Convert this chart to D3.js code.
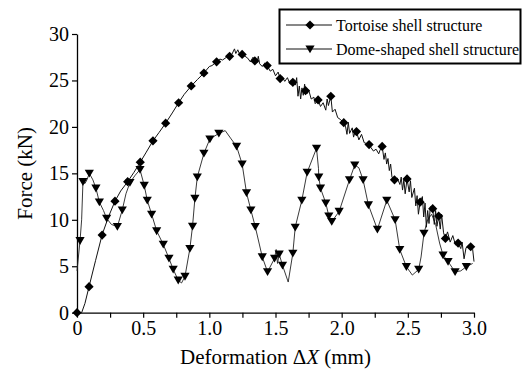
<!DOCTYPE html>
<html>
<head>
<meta charset="utf-8">
<script src="https://cdn.jsdelivr.net/npm/d3@7/dist/d3.min.js"></script>
<style>
  html, body { margin: 0; padding: 0; background: #fff; }
  svg { display: block; }
  svg text { font-family: 'Liberation Serif', 'Times New Roman', serif; fill: #000; }
</style>
</head>
<body>
<svg id="chart" width="526" height="371"></svg>
<script>
// Tortoise shell structure: force curve (x in mm, y in kN)
const tortoiseLine = [
  [0,0],[0.035,0],[0.06,1],[0.091,2.8],[0.14,5.6],[0.19,8.4],[0.24,10.4],[0.287,12.0],[0.33,13.1],
  [0.383,14.1],[0.43,15.1],[0.478,16.2],[0.52,17.2],[0.574,18.5],[0.62,19.4],[0.67,20.4],[0.72,21.5],
  [0.768,22.6],[0.81,23.5],[0.863,24.4],[0.91,25.1],[0.959,25.8],[1.0,26.5],[1.02,26.6],[1.055,27.0],
  [1.08,27.3],[1.10,27.2],[1.13,27.5],[1.153,27.6],[1.17,27.8],[1.19,28.4],[1.20,27.9],[1.215,28.3],
  [1.23,27.8],[1.248,27.8],[1.27,27.6],[1.29,27.4],[1.31,27.0],[1.33,27.5],[1.344,27.1],[1.36,26.9],
  [1.37,27.6],[1.38,26.8],[1.40,26.5],[1.42,26.9],[1.437,26.6],[1.46,26.0],[1.48,26.2],[1.50,25.5],
  [1.52,25.9],[1.535,25.2],[1.55,25.4],[1.57,24.9],[1.59,25.3],[1.61,24.6],[1.631,24.8],[1.65,24.5],
  [1.66,25.3],[1.67,23.3],[1.68,24.4],[1.69,23.0],[1.70,24.2],[1.71,23.4],[1.72,24.6],[1.727,23.9],
  [1.74,23.6],[1.75,24.0],[1.77,23.0],[1.79,23.2],[1.80,22.5],[1.822,22.9],[1.84,22.2],[1.86,22.6],
  [1.88,21.8],[1.89,23.0],[1.90,22.3],[1.918,23.3],[1.93,21.6],[1.95,21.9],[1.97,21.0],[1.99,20.8],
  [2.016,20.45],[2.03,20.0],[2.04,19.2],[2.05,20.5],[2.06,19.3],[2.08,19.9],[2.09,18.9],[2.10,19.4],
  [2.112,19.5],[2.13,18.6],[2.15,19.2],[2.17,18.3],[2.19,18.2],[2.207,18.1],[2.22,17.8],[2.24,17.4],
  [2.26,17.6],[2.28,17.1],[2.29,17.5],[2.306,17.9],[2.32,16.5],[2.33,17.2],[2.34,16.0],[2.35,16.6],
  [2.36,15.3],[2.37,16.0],[2.38,14.6],[2.399,14.3],[2.42,14.5],[2.44,13.8],[2.45,14.6],[2.46,13.2],
  [2.47,14.3],[2.48,12.8],[2.494,14.4],[2.51,13.0],[2.52,14.2],[2.53,12.4],[2.55,13.4],[2.56,11.5],
  [2.57,12.6],[2.58,10.6],[2.593,11.9],[2.61,12.5],[2.62,10.3],[2.63,11.8],[2.64,9.2],[2.65,11.0],
  [2.66,9.6],[2.67,11.4],[2.688,11.2],[2.70,9.5],[2.71,11.0],[2.72,9.3],[2.733,10.4],[2.745,9.0],
  [2.755,10.6],[2.77,8.6],[2.784,8.0],[2.80,8.7],[2.82,7.6],[2.84,8.3],[2.86,7.3],[2.88,7.5],
  [2.90,6.9],[2.91,7.6],[2.925,5.8],[2.94,7.0],[2.96,7.1],[2.975,7.1],[2.99,6.8],[3.0,5.5]
];
const tortoiseMarkers = [
  [0,0],[0.091,2.8],[0.19,8.36],[0.287,12.0],[0.383,14.1],[0.478,16.2],[0.574,18.5],[0.670,20.4],
  [0.768,22.6],[0.863,24.4],[0.959,25.8],[1.055,27.0],[1.153,27.6],[1.248,27.8],[1.344,27.1],
  [1.437,26.6],[1.535,25.2],[1.631,24.8],[1.727,23.9],[1.822,22.9],[1.918,23.3],[2.016,20.45],
  [2.112,19.5],[2.207,18.1],[2.306,17.9],[2.399,14.3],[2.494,14.4],[2.593,11.9],[2.688,11.2],
  [2.733,10.4],[2.784,8.0],[2.88,7.5],[2.975,7.1]
];

// Dome-shaped shell structure
const domeLine = [
  [0,4.5],[0.023,7.75],[0.035,10],[0.045,14.1],[0.06,13.9],[0.075,14.3],[0.093,15.0],[0.12,14.3],
  [0.143,13.4],[0.169,11.9],[0.20,11.0],[0.224,10.15],[0.26,9.5],[0.305,9.26],[0.342,11.05],[0.37,12.8],
  [0.40,14.0],[0.44,14.8],[0.476,15.4],[0.508,13.7],[0.531,12.1],[0.564,10.6],[0.602,8.8],[0.652,7.35],
  [0.695,5.85],[0.727,4.66],[0.765,3.5],[0.79,3.2],[0.816,3.9],[0.853,6.9],[0.873,9.3],[0.891,12.3],
  [0.909,14.6],[0.959,17.15],[1.004,18.7],[1.072,19.3],[1.12,19.6],[1.16,18.8],[1.206,17.9],[1.248,16.0],
  [1.281,12.9],[1.314,11.05],[1.347,9.26],[1.400,6.0],[1.44,4.4],[1.493,5.85],[1.505,6.8],[1.515,5.3],
  [1.528,6.3],[1.553,5.1],[1.596,3.3],[1.631,6.4],[1.649,9.2],[1.699,12.1],[1.739,15.1],[1.81,17.7],
  [1.825,15.5],[1.827,14.6],[1.84,13.4],[1.880,11.8],[1.903,10.4],[1.925,9.8],[1.981,10.9],[2.059,14.3],
  [2.099,15.9],[2.13,15.6],[2.162,14.3],[2.202,11.6],[2.27,8.97],[2.341,12.1],[2.404,10.0],[2.439,6.8],
  [2.489,4.95],[2.534,4.05],[2.582,4.66],[2.60,6.0],[2.622,8.55],[2.65,10.0],[2.68,10.6],[2.71,9.5],
  [2.74,7.5],[2.766,6.2],[2.804,5.5],[2.857,4.4],[2.90,4.5],[2.942,4.95],[2.99,5.3]
];
const domeMarkers = [
  [0.023,7.75],[0.045,14.1],[0.093,15.0],[0.143,13.4],[0.169,11.9],[0.224,10.15],[0.305,9.26],
  [0.342,11.05],[0.400,14.0],[0.476,15.4],[0.508,13.7],[0.531,12.1],[0.564,10.6],[0.602,8.8],
  [0.652,7.35],[0.695,5.85],[0.727,4.66],[0.765,3.5],[0.816,3.9],[0.853,6.9],[0.873,9.3],[0.891,12.3],
  [0.909,14.6],[0.959,17.15],[1.004,18.7],[1.072,19.3],[1.206,17.9],[1.248,16.0],[1.281,12.9],
  [1.314,11.05],[1.347,9.26],[1.400,6.0],[1.44,4.4],[1.493,5.85],[1.528,6.3],[1.553,5.1],[1.631,6.4],
  [1.649,9.2],[1.699,12.1],[1.739,15.1],[1.81,17.7],[1.827,14.6],[1.84,13.4],[1.880,11.8],[1.903,10.4],
  [1.925,9.8],[1.981,10.9],[2.059,14.3],[2.099,15.9],[2.162,14.3],[2.202,11.6],[2.27,8.97],[2.341,12.1],
  [2.404,10.0],[2.439,6.8],[2.489,4.95],[2.582,4.66],[2.622,8.55],[2.766,6.2],[2.804,5.5],[2.857,4.4],
  [2.942,4.95]
];

const xTicks = [0, 0.25, 0.5, 0.75, 1.0, 1.25, 1.5, 1.75, 2.0, 2.25, 2.5, 2.75, 3.0];
const xLabels = ["0", "0.5", "1.0", "1.5", "2.0", "2.5", "3.0"];
const yTicks = [0, 5, 10, 15, 20, 25, 30];
const legendItems = ["Tortoise shell structure", "Dome-shaped shell structure"];

const svg = d3.select("#chart");

const x = d3.scaleLinear().domain([0, 3]).range([77, 474]);
const y = d3.scaleLinear().domain([0, 30]).range([312.7, 34]);

const diamond = "M0,-4.6L4.6,0L0,4.6L-4.6,0Z";
const triangle = "M-4.6,-3.6L4.6,-3.6L0,4.2Z";

// axes
const xAxis = svg.append("g")
  .attr("transform", `translate(0,${y(0)})`)
  .call(d3.axisBottom(x).tickValues(xTicks).tickSize(5).tickSizeOuter(0)
    .tickFormat((d) => (Math.abs(d * 2 - Math.round(d * 2)) < 1e-6 ? xLabels[Math.round(d * 2)] : "")))
  .attr("font-size", 20);
xAxis.select(".domain").attr("stroke-width", 1.3);
xAxis.selectAll(".tick line").attr("stroke-width", 1.2);
xAxis.selectAll(".tick text").attr("dy", "0.75em").attr("y", 7);

const yAxis = svg.append("g")
  .attr("transform", `translate(${x(0)},0)`)
  .call(d3.axisLeft(y).tickValues(yTicks).tickSize(5).tickSizeOuter(0).tickFormat(d3.format("d")))
  .attr("font-size", 20);
yAxis.select(".domain").attr("stroke-width", 1.3);
yAxis.selectAll(".tick line").attr("stroke-width", 1.2);
yAxis.selectAll(".tick text").attr("x", -8);

// axis titles
const xTitle = svg.append("text")
  .attr("x", (x(0) + x(3)) / 2)
  .attr("y", 364)
  .attr("text-anchor", "middle")
  .attr("font-size", 21);
xTitle.append("tspan").text("Deformation Δ");
xTitle.append("tspan").attr("font-style", "italic").text("X");
xTitle.append("tspan").text(" (mm)");

svg.append("text")
  .attr("transform", `translate(32,${(y(0) + y(30)) / 2}) rotate(-90)`)
  .attr("text-anchor", "middle")
  .attr("font-size", 21)
  .text("Force (kN)");

// lines
const line = d3.line().x((d) => x(d[0])).y((d) => y(d[1]));

svg.append("path")
  .datum(domeLine)
  .attr("fill", "none")
  .attr("stroke", "#222")
  .attr("stroke-width", 0.9)
  .attr("d", line);

svg.append("path")
  .datum(tortoiseLine)
  .attr("fill", "none")
  .attr("stroke", "#111")
  .attr("stroke-width", 1)
  .attr("d", line);

svg.append("g")
  .selectAll("path")
  .data(domeMarkers)
  .join("path")
  .attr("d", triangle)
  .attr("transform", (d) => `translate(${x(d[0])},${y(d[1])})`)
  .attr("fill", "#000");

svg.append("g")
  .selectAll("path")
  .data(tortoiseMarkers)
  .join("path")
  .attr("d", diamond)
  .attr("transform", (d) => `translate(${x(d[0])},${y(d[1])})`)
  .attr("fill", "#000");

// legend
const legend = svg.append("g");
legend.append("rect")
  .attr("x", 279.5).attr("y", 9.5)
  .attr("width", 241).attr("height", 54)
  .attr("fill", "#fff")
  .attr("stroke", "#000")
  .attr("stroke-width", 2);

legend.selectAll("g")
  .data(legendItems)
  .join("g")
  .attr("transform", (d, i) => `translate(0,${25 + i * 24})`)
  .each(function (d, i) {
    const g = d3.select(this);
    g.append("line").attr("x1", 286).attr("x2", 332).attr("stroke", "#111").attr("stroke-width", 1);
    g.append("path").attr("d", i === 0 ? diamond : triangle)
      .attr("transform", "translate(310,0)").attr("fill", "#000");
    g.append("text").attr("x", 336).attr("dy", "0.35em").attr("font-size", 16).text(d);
  });
</script>
</body>
</html>
